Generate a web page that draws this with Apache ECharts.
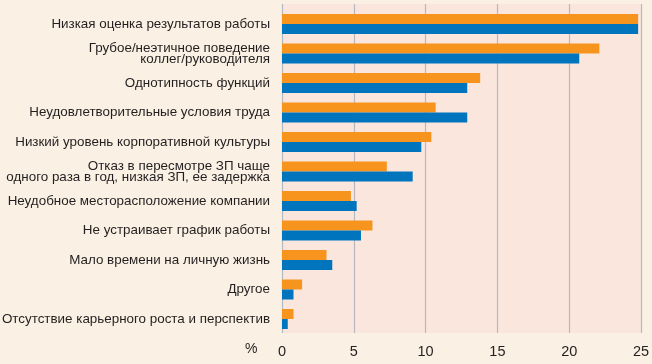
<!DOCTYPE html>
<html><head><meta charset="utf-8">
<script src="https://cdn.jsdelivr.net/npm/echarts@6/dist/echarts.min.js"></script>
<style>html,body{margin:0;padding:0;background:#FAF1E4;}#c{width:652px;height:364px;}</style>
</head><body><div id="c"></div>
<script>
const categories = [
  "Низкая оценка результатов работы",
  "Грубое/неэтичное поведение\nколлег/руководителя",
  "Однотипность функций",
  "Неудовлетворительные условия труда",
  "Низкий уровень корпоративной культуры",
  "Отказ в пересмотре ЗП чаще\nодного раза в год, низкая ЗП, ее задержка",
  "Неудобное месторасположение компании",
  "Не устраивает график работы",
  "Мало времени на личную жизнь",
  "Другое",
  "Отсутствие карьерного роста и перспектив"
];
const orangeValues = [24.8, 22.1, 13.8, 10.7, 10.4, 7.3, 4.8, 6.3, 3.1, 1.4, 0.8];
const blueValues   = [24.8, 20.7, 12.9, 12.9, 9.7, 9.1, 5.2, 5.5, 3.5, 0.8, 0.4];
const xTicks = [0, 5, 10, 15, 20, 25];

const FONT = '"Liberation Sans Narrow", "Liberation Sans", sans-serif';
const chart = echarts.init(document.getElementById('c'), null, {renderer: 'canvas'});
chart.setOption({
  backgroundColor: '#FAF1E4',
  animation: false,
  grid: [
    {left: 282, width: 359, top: 4, height: 329, show: true, backgroundColor: '#FBE6DE', borderWidth: 0, containLabel: false, outerBoundsMode: 'none'},
    {left: 282, width: 359, top: 9.25, height: 324.5, containLabel: false, outerBoundsMode: 'none'}
  ],
  xAxis: [
    {gridIndex: 0, type: 'value', min: xTicks[0], max: xTicks[xTicks.length-1], interval: 5,
     axisLine: {show: false}, axisTick: {show: false},
     splitLine: {show: true, lineStyle: {color: '#B4B9C0', width: 1.2}},
     axisLabel: {fontFamily: FONT, fontSize: 14.5, color: '#231F20', margin: 11}},
    {gridIndex: 1, type: 'value', min: xTicks[0], max: xTicks[xTicks.length-1], show: false}
  ],
  yAxis: [
    {gridIndex: 0, type: 'value', min: 0, max: 1, show: false},
    {gridIndex: 1, type: 'category', data: categories, inverse: true,
     axisLine: {show: false}, axisTick: {show: false},
     axisLabel: {fontFamily: FONT, fontSize: 13.4, color: '#231F20', margin: 12, lineHeight: 11, align: 'right'}}
  ],
  graphic: [{type: 'text', left: 245, top: 342, style: {text: '%', fontFamily: FONT, fontSize: 14, fill: '#231F20'}}],
  series: [
    {type: 'bar', xAxisIndex: 1, yAxisIndex: 1, data: orangeValues, barWidth: 10, barGap: '0%',
     itemStyle: {color: '#F7941D'}},
    {type: 'bar', xAxisIndex: 1, yAxisIndex: 1, data: blueValues, barWidth: 10, barGap: '0%',
     itemStyle: {color: '#0074BD'}}
  ]
});
</script></body></html>
